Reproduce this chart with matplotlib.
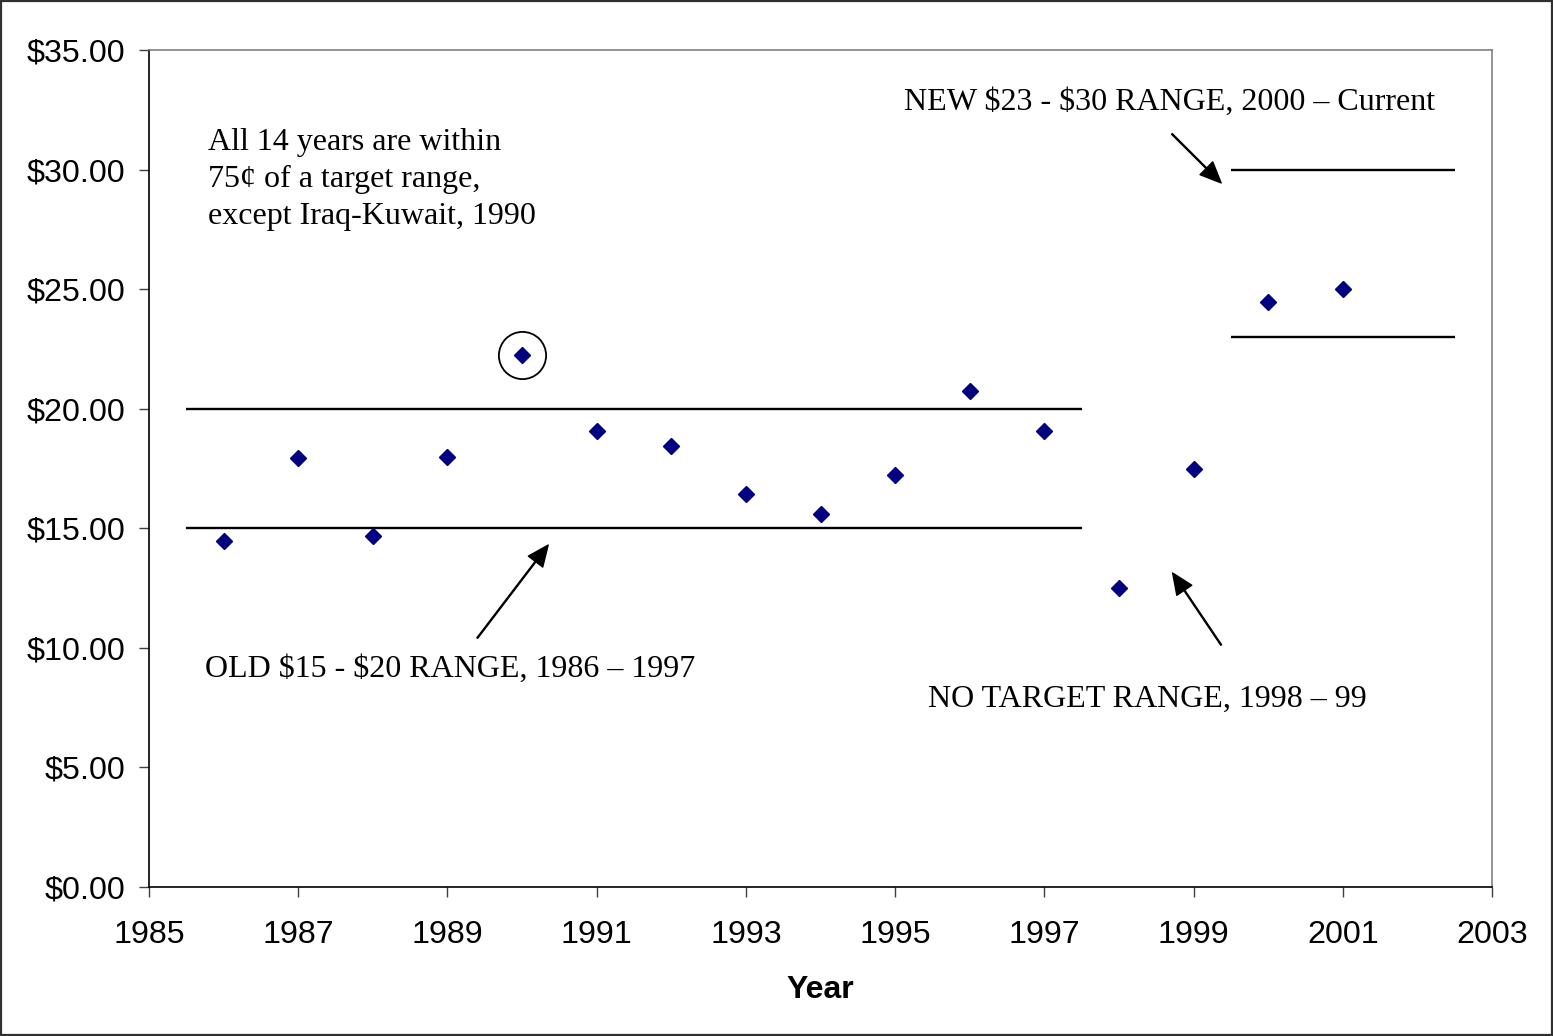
#!/usr/bin/env python3
"""
OPEC basket price vs. target ranges, 1986-2001
"""
import matplotlib
matplotlib.use("Agg")
import matplotlib.pyplot as plt
from matplotlib.patches import Rectangle

years  = [1986, 1987, 1988, 1989, 1990, 1991, 1992, 1993,
          1994, 1995, 1996, 1997, 1998, 1999, 2000, 2001]
prices = [14.45, 17.92, 14.66, 17.98, 22.24, 19.07, 18.44, 16.42,
          15.60, 17.21, 20.72, 19.06, 12.50, 17.50, 24.45, 25.00]

old_range = (1985.5, 1997.5, 15.0, 20.0)   # x0, x1, low, high
new_range = (1999.5, 2002.5, 23.0, 30.0)
outlier_year = 1990

yticks = [0, 5, 10, 15, 20, 25, 30, 35]
xticks = list(range(1985, 2004, 2))

SERIF = ["Liberation Serif", "DejaVu Serif"]
SANS  = ["Liberation Sans", "DejaVu Sans"]


def main():
    plt.rcParams["font.family"] = SANS
    fig = plt.figure(figsize=(15.53, 10.36), dpi=100)
    ax = fig.add_axes([149 / 1553, 1 - 887 / 1036, 1343 / 1553, 837 / 1036])

    # target range lines
    for x0, x1, lo, hi in (old_range, new_range):
        ax.hlines([lo, hi], x0, x1, colors="black", lw=1.7)

    ax.plot(years, prices, ls="none", marker="D", ms=8, color="#000080",
            markeredgecolor="#000080")

    # circle around the Iraq-Kuwait outlier
    i = years.index(outlier_year)
    ax.plot([years[i]], [prices[i]], ls="none", marker="o", ms=34,
            mfc="none", mec="black", mew=1.3)

    ax.set_xlim(1985, 2003)
    ax.set_ylim(0, 35)
    ax.set_xticks(xticks)
    ax.set_yticks(yticks)
    ax.set_yticklabels([f"${v:.2f}" for v in yticks])
    ax.tick_params(axis="both", direction="out", length=7, width=1,
                   labelsize=23.2, color="#404040")
    ax.tick_params(axis="y", pad=10)
    ax.tick_params(axis="x", pad=17)
    ax.set_xlabel("Year", fontsize=23, fontweight="bold", labelpad=18)

    for s in ("left", "bottom"):
        ax.spines[s].set_color("black")
        ax.spines[s].set_linewidth(1.2)
    for s in ("top", "right"):
        ax.spines[s].set_color("#808080")
        ax.spines[s].set_linewidth(1.2)

    txt = dict(fontsize=23, family=SERIF, ha="left", va="center")
    ax.text(1985.79, 29.58,
            "All 14 years are within\n75\u00a2 of a target range,\nexcept Iraq-Kuwait, 1990",
            linespacing=1.38, **txt)
    ax.text(1985.75, 9.10, "OLD \\$15 - \\$20 RANGE, 1986 \u2013 1997", **txt)
    ax.text(1995.44, 7.85, "NO TARGET RANGE, 1998 \u2013 99", **txt)
    ax.text(1995.12, 32.83, "NEW \\$23 - \\$30 RANGE, 2000 \u2013 Current", **txt)

    arrow = dict(width=0.7, headwidth=13, headlength=15, color="black")
    ax.annotate("", xy=(1990.35, 14.30), xytext=(1989.40, 10.41), arrowprops=arrow)
    ax.annotate("", xy=(1998.72, 13.13), xytext=(1999.37, 10.12), arrowprops=arrow)
    ax.annotate("", xy=(1999.37, 29.44), xytext=(1998.71, 31.49), arrowprops=arrow)

    # outer chart border
    fig.patches.append(Rectangle((0.0008, 0.0008), 0.9984, 0.9984,
                                 transform=fig.transFigure, fill=False,
                                 edgecolor="#303030", lw=1.6))

    fig.savefig("out.png", dpi=100, facecolor="white")
    plt.close(fig)


if __name__ == "__main__":
    main()
